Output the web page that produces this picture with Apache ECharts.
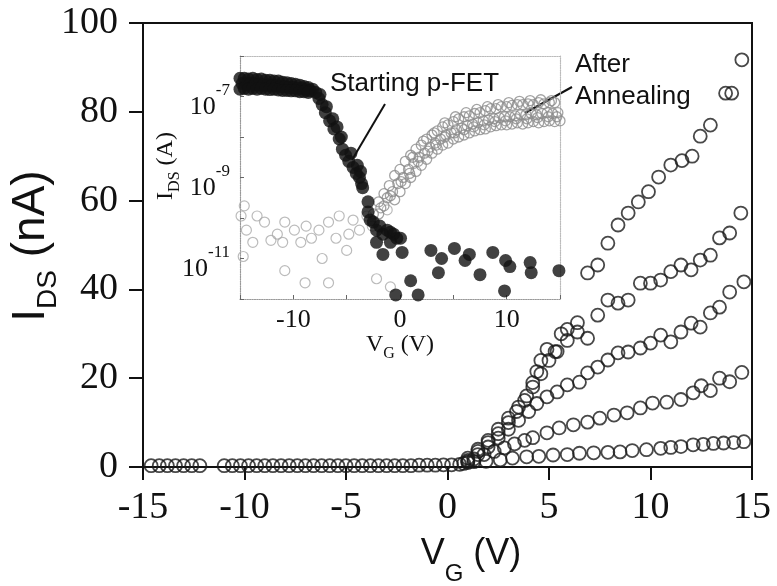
<!DOCTYPE html>
<html>
<head>
<meta charset="utf-8">
<script src="https://cdn.jsdelivr.net/npm/echarts@6/dist/echarts.min.js"></script>
<style>
html,body{margin:0;padding:0;background:#fff}
#chart{width:777px;height:586px}
</style>
</head>
<body>
<div id="chart"></div>
<script>
// main plot : I_DS (nA) vs V_G (V), one sweep per drain bias
var offState = [[-14.6,0.3],[-14.2,0.3],[-13.8,0.3],[-13.4,0.3],[-13.0,0.3],[-12.6,0.3],[-12.2,0.3],
	[-11.0,0.3],[-10.6,0.3],[-10.2,0.3],[-9.8,0.3],[-9.4,0.3],[-9.0,0.3],[-8.6,0.3],[-8.2,0.3],[-7.8,0.3],
	[-7.4,0.3],[-7.0,0.3],[-6.6,0.3],[-6.2,0.3],[-5.8,0.3],[-5.4,0.3],[-5.0,0.3],[-4.6,0.3],[-4.2,0.3],
	[-3.8,0.3],[-3.4,0.3],[-3.0,0.3],[-2.6,0.3],[-2.2,0.3],[-1.8,0.3],[-1.4,0.4],[-1.0,0.4],[-0.6,0.4],
	[-0.2,0.5],[0.2,0.5]];
var sweepA = [[1.0,2],[1.5,4],[2.0,6],[2.5,8.5],[3.0,11],[3.5,13.5],[3.9,16],[4.2,19],[4.4,21.5],[4.6,24],
	[4.9,26.5],[5.3,26],[5.6,30],[5.9,31],[6.4,32.5],[6.9,43.7],[7.4,45.5],[7.9,50.4],[8.4,54.5],[8.9,57.2],
	[9.4,59.7],[9.9,62],[10.4,65.3],[11.0,68],[11.55,69],[12.05,70],[12.45,74.5],[12.95,77],[13.7,84.2],
	[14.0,84.2],[14.5,91.7]];
var sweepB = [[1.0,1.5],[1.5,3.5],[2.0,5.5],[2.5,7.5],[3.0,10],[3.4,12.5],[3.8,15],[4.2,18],[4.6,21],
	[5.0,24],[5.4,26],[5.9,28.5],[6.4,30.4],[6.9,29],[7.4,34.2],[7.9,37.6],[8.4,36.9],[8.9,37.6],[9.5,41.4],
	[10.0,41.4],[10.5,42.1],[11.0,44],[11.5,45.5],[12.0,44.4],[12.45,46.6],[12.95,47.7],[13.4,51.6],
	[13.9,52.7],[14.45,57.2]];
var sweepC = [[1.0,1.2],[1.5,2.8],[2.0,4.5],[2.5,6.5],[3.0,8.5],[3.5,10.5],[4.0,12.5],[4.4,14.3],[4.9,15.8],
	[5.4,16.9],[5.9,18.5],[6.5,19.1],[6.9,21.2],[7.4,22.5],[7.9,24.1],[8.4,25.7],[8.9,25.9],[9.5,26.8],
	[10.0,27.9],[10.5,29.7],[11.0,28.2],[11.5,30.4],[12.0,32.4],[12.45,31.5],[12.95,34.7],[13.4,36.0],
	[13.9,39.4],[14.6,41.7]];
var sweepD = [[0.8,0.8],[1.3,1.8],[1.8,2.8],[2.3,3.5],[2.8,4.3],[3.3,5.2],[3.8,6.0],[4.2,6.6],[4.9,7.7],
	[5.5,8.8],[6.2,9.5],[6.9,10.1],[7.5,11.0],[8.2,11.7],[8.85,12.2],[9.5,13.3],[10.1,14.4],[10.8,14.6],
	[11.5,15.2],[12.1,16.7],[12.5,18.3],[12.95,17.2],[13.4,20.0],[13.9,19.2],[14.5,21.3]];
var sweepE = [[0.6,0.6],[1.0,1.0],[1.3,1.2],[1.9,1.3],[2.6,1.6],[3.2,2.0],[3.9,2.3],[4.5,2.4],[5.2,2.7],
	[5.9,2.8],[6.5,3.1],[7.2,3.2],[7.9,3.3],[8.5,3.4],[9.1,3.7],[9.8,3.9],[10.5,4.2],[11.0,4.4],[11.5,4.6],
	[12.1,5.0],[12.6,5.1],[13.1,5.3],[13.6,5.4],[14.1,5.5],[14.6,5.7]];
var mainXTicks = [-15, 15, 5];
var mainYTicks = [0, 100, 20];

// inset : log10 of I_DS (A) vs V_G (V)
var pfetLog = [[-15,-6.55],[-14.6,-6.55],[-14.2,-6.57],[-13.8,-6.55],[-13.4,-6.58],[-13.0,-6.57],[-12.6,-6.6],
	[-12.2,-6.6],[-11.8,-6.62],[-11.4,-6.62],[-11.0,-6.65],[-10.6,-6.66],[-10.2,-6.68],[-9.8,-6.7],[-9.4,-6.72],
	[-9.0,-6.75],[-8.6,-6.78],[-8.2,-6.82],
	[-14.8,-6.68],[-14.4,-6.7],[-14.0,-6.68],[-13.6,-6.7],[-13.2,-6.7],[-12.8,-6.72],[-12.4,-6.72],[-12.0,-6.74],
	[-11.6,-6.74],[-11.2,-6.75],[-10.8,-6.76],[-10.4,-6.78],[-10.0,-6.78],[-9.6,-6.8],[-9.2,-6.8],[-8.8,-6.84],
	[-8.4,-6.86],
	[-15,-6.82],[-14.6,-6.8],[-14.2,-6.82],[-13.8,-6.8],[-13.4,-6.82],[-13.0,-6.8],[-12.6,-6.82],[-12.2,-6.83],
	[-11.8,-6.82],[-11.4,-6.84],[-11.0,-6.85],[-10.6,-6.85],[-10.2,-6.86],[-9.8,-6.86],[-9.4,-6.88],[-9.0,-6.88],
	[-8.6,-6.9],
	[-7.9,-6.9],[-7.6,-7.05],[-7.5,-6.95],[-7.3,-7.2],[-7.0,-7.4],[-6.9,-7.25],[-6.6,-7.6],[-6.3,-7.55],
	[-6.2,-7.8],[-5.9,-7.75],[-5.7,-8.05],[-5.5,-8.0],[-5.4,-8.3],[-5.1,-8.45],[-4.8,-8.6],[-4.6,-8.4],
	[-4.4,-8.75],[-4.1,-8.9],[-4.0,-8.7],[-3.8,-9.0],[-3.7,-8.85],[-3.6,-9.15],[-3.5,-9.25],
	[-3.0,-9.6],[-3.0,-9.85],[-2.8,-10.05],[-2.5,-10.1],[-2.2,-10.3],[-1.9,-10.2],[-1.6,-10.4],[-1.2,-10.3],
	[-0.9,-10.35],[-0.6,-10.4],[-0.3,-10.5],[0.05,-10.5],[-2.2,-10.6],[-1.6,-10.9],[-0.9,-10.6],[0.2,-10.85],
	[2.9,-10.8],[5.1,-10.75],[3.9,-11.0],[6.5,-10.9],[6.1,-11.05],[8.7,-10.85],[9.9,-11.05],[10.3,-11.2],
	[12.2,-11.1],[12.3,-11.35],[14.9,-11.3],[3.6,-11.35],[7.5,-11.4],[1.0,-11.55],[-0.4,-11.9],[1.7,-11.9],
	[9.8,-11.8]];
var annealLog = [[-2.5,-9.9],[-2,-9.6],[-1.5,-9.4],[-1,-9.2],[-0.5,-8.95],[0,-8.8],[0.5,-8.6],[1,-8.45],
	[1.5,-8.3],[2,-8.2],[2.5,-8.05],[3,-7.95],[3.5,-7.85],[4,-7.75],[4.5,-7.7],[5,-7.62],[5.5,-7.55],[6,-7.5],
	[6.5,-7.48],[7,-7.42],[7.5,-7.4],[8,-7.35],[8.5,-7.3],[9,-7.3],[9.5,-7.25],[10,-7.25],[10.5,-7.22],
	[11,-7.2],[11.5,-7.2],[12,-7.18],[12.5,-7.2],[13,-7.15],[13.5,-7.18],[14,-7.15],[14.5,-7.15],
	[-2,-9.9],[-1.5,-9.7],[-1.2,-9.5],[-0.7,-9.35],[-0.2,-9.15],[0.3,-9],[0.8,-8.8],[1.3,-8.65],[1.8,-8.5],
	[2.3,-8.4],[2.8,-8.25],[3.3,-8.15],[3.8,-8.05],[4.3,-7.95],[4.8,-7.9],[5.3,-7.82],[5.8,-7.78],[6.3,-7.72],
	[6.8,-7.68],[7.3,-7.65],[7.8,-7.6],[8.3,-7.58],[8.8,-7.55],[9.3,-7.52],[9.8,-7.5],[10.3,-7.5],[10.8,-7.48],
	[11.3,-7.45],[11.8,-7.45],[12.3,-7.42],[12.8,-7.45],[13.3,-7.42],[13.8,-7.4],[14.3,-7.42],[14.8,-7.4],
	[-0.5,-9.55],[0,-9.35],[0.5,-9.15],[1,-9],[1.5,-8.85],[2,-8.7],[2.5,-8.55],[3,-8.4],[3.5,-8.3],[4,-8.2],
	[4.5,-8.15],[5,-8.05],[5.5,-8],[6,-7.95],[6.5,-7.9],[7,-7.85],[7.5,-7.82],[8,-7.8],[8.5,-7.75],[9,-7.72],
	[9.5,-7.7],[10,-7.7],[10.5,-7.68],[11,-7.65],[11.5,-7.68],[12,-7.65],[12.5,-7.62],[13,-7.65],[13.5,-7.62],
	[14,-7.6],[14.5,-7.62],[15,-7.6],
	[-1.8,-9.75],[-0.9,-9.45],[0.1,-9.1],[0.9,-8.9],[1.7,-8.6],[2.6,-8.35],[3.4,-8.2],[4.2,-8.0],[5.1,-7.9],
	[6.0,-7.82],[6.9,-7.75],[7.9,-7.7],[8.9,-7.62],[9.9,-7.6],[10.9,-7.55],[11.9,-7.55],[12.9,-7.52],[13.9,-7.5],
	[14.7,-7.5],
	[1.2,-8.5],[2.2,-8.1],[3.2,-7.9],[4.2,-7.65],[5.2,-7.5],[6.2,-7.4],[7.2,-7.32],[8.2,-7.25],[9.2,-7.2],
	[10.2,-7.15],[11.2,-7.12],[12.2,-7.1],[13.2,-7.08],[14.2,-7.1]];
var annealOffLog = [[-14.6,-9.7],[-13.4,-9.95],[-14.4,-10.3],[-12.7,-10.1],[-14.9,-9.95],[-10.8,-10.1],
	[-9.9,-10.3],[-12.1,-10.55],[-9.3,-10.6],[-7.6,-10.3],[-6.7,-10.1],[-6.0,-10.5],[-7.3,-11.0],[-5.0,-10.8],
	[-4.4,-10.05],[-3.8,-10.3],[-10.8,-11.3],[-8.9,-11.6],[-6.7,-11.6],[-2.2,-11.5],[-0.9,-11.7],[-14.7,-10.95],
	[-11.5,-10.4],[-8.3,-10.5],[-5.7,-9.95],[-3.1,-9.95],[-1.2,-9.8],[-13.8,-10.6],[-11.0,-10.6],[-8.8,-10.2],
	[-4.8,-10.4],[-2.6,-10.2]];
var insetXLabels = [-10, 0, 10];
var insetYLabels = [-7, -9, -11];

function toAmps(list){
	return list.map(function(p){ return [p[0], Math.pow(10, p[1])]; });
}

var myChart = echarts.init(document.getElementById('chart'));

var openCircle = {
	type: 'scatter',
	symbol: 'circle',
	symbolSize: 13,
	xAxisIndex: 0,
	yAxisIndex: 0,
	itemStyle: { color: 'rgba(0,0,0,0)', borderColor: '#1a1a1a', borderWidth: 1.8 },
	silent: true
};
function mainSeries(data){
	return Object.assign({}, openCircle, { data: data });
}

var option = {
	backgroundColor: '#fff',
	animation: false,
	grid: [
		{ left: 143, right: 25, top: 23, bottom: 119, show: true, borderColor: '#111', borderWidth: 2 },
		{ left: 240, top: 56, width: 320, height: 243, show: true, backgroundColor: '#fff', borderWidth: 0 }
	],
	xAxis: [
		{
			type: 'value', gridIndex: 0,
			min: mainXTicks[0], max: mainXTicks[1], interval: mainXTicks[2],
			splitLine: { show: false },
			axisLine: { onZero: false, lineStyle: { color: '#111', width: 2 } },
			axisTick: { inside: false, length: 13, lineStyle: { color: '#111', width: 2 } },
			axisLabel: { color: '#111', fontSize: 38, fontFamily: 'Liberation Serif', margin: 22 }
		},
		{
			type: 'value', gridIndex: 1,
			min: -15, max: 15, interval: 5,
			splitLine: { show: false },
			axisLine: { onZero: false, lineStyle: { color: '#999', width: 1.2, type: 'dotted' } },
			axisTick: { inside: true, length: 4, lineStyle: { color: '#666', width: 1 } },
			axisLabel: {
				color: '#111', fontSize: 26, fontFamily: 'Liberation Serif', margin: 8,
				formatter: function(v){ return insetXLabels.indexOf(v) >= 0 ? String(v) : ''; }
			}
		},
		{
			type: 'value', gridIndex: 1, position: 'top',
			min: -15, max: 15,
			splitLine: { show: false },
			axisLine: { onZero: false, lineStyle: { color: '#bbb', width: 1.2, type: 'dotted' } },
			axisTick: { show: false }, axisLabel: { show: false }
		}
	],
	yAxis: [
		{
			type: 'value', gridIndex: 0,
			min: mainYTicks[0], max: mainYTicks[1], interval: mainYTicks[2],
			splitLine: { show: false },
			axisLine: { onZero: false, lineStyle: { color: '#111', width: 2 } },
			axisTick: { inside: false, length: 14, lineStyle: { color: '#111', width: 2 } },
			axisLabel: { color: '#111', fontSize: 38, fontFamily: 'Liberation Serif', margin: 25 }
		},
		{
			type: 'log', gridIndex: 1, logBase: 10,
			min: 1e-12, max: 1e-6,
			splitLine: { show: false },
			minorTick: { show: false },
			axisLine: { onZero: false, lineStyle: { color: '#999', width: 1.2, type: 'dotted' } },
			axisTick: { inside: true, length: 4, lineStyle: { color: '#666', width: 1 } },
			axisLabel: {
				margin: 10,
				formatter: function(v){
					var e = Math.round(Math.log(v) / Math.LN10);
					return insetYLabels.indexOf(e) >= 0 ? '{b|10}{s|' + e + '}' : '';
				},
				rich: {
					b: { fontSize: 26, fontFamily: 'Liberation Serif', color: '#111', lineHeight: 28, padding: [12, 0, 12, 0], verticalAlign: 'top' },
					s: { fontSize: 17, fontFamily: 'Liberation Serif', color: '#111', lineHeight: 18, verticalAlign: 'top' }
				}
			}
		},
		{
			type: 'log', gridIndex: 1, logBase: 10, position: 'right',
			min: 1e-12, max: 1e-6,
			splitLine: { show: false },
			axisLine: { onZero: false, lineStyle: { color: '#bbb', width: 1.2, type: 'dotted' } },
			axisTick: { show: false }, axisLabel: { show: false }
		}
	],
	series: [
		mainSeries(offState),
		mainSeries(sweepE),
		mainSeries(sweepD),
		mainSeries(sweepC),
		mainSeries(sweepB),
		mainSeries(sweepA),
		{
			type: 'scatter', xAxisIndex: 1, yAxisIndex: 1, symbol: 'circle', symbolSize: 10,
			itemStyle: { color: 'rgba(0,0,0,0)', borderColor: '#aaa', borderWidth: 1.2 },
			data: toAmps(annealOffLog)
		},
		{
			type: 'scatter', xAxisIndex: 1, yAxisIndex: 1, symbol: 'circle', symbolSize: 10,
			itemStyle: { color: 'rgba(0,0,0,0)', borderColor: '#8c8c8c', borderWidth: 1.3 },
			data: toAmps(annealLog)
		},
		{
			type: 'scatter', xAxisIndex: 1, yAxisIndex: 1, symbol: 'circle', symbolSize: 13,
			itemStyle: { color: '#111' },
			data: toAmps(pfetLog)
		}
	],
	graphic: [
		{
			// x axis title
			type: 'text', x: 471, y: 536,
			style: {
				text: '{m|V}{g|G}{m| (V)}', align: 'center', verticalAlign: 'top',
				rich: {
					m: { fontSize: 36, fontFamily: 'Liberation Sans', fill: '#111', lineHeight: 40, verticalAlign: 'top' },
					g: { fontSize: 24, fontFamily: 'Liberation Sans', fill: '#111', lineHeight: 24, padding: [26, 0, 0, 0], verticalAlign: 'top' }
				}
			}
		},
		{
			// y axis title
			type: 'text', x: 8, y: 246, rotation: Math.PI / 2,
			style: {
				text: '{m|I}{g|DS}{m| (nA)}', align: 'center', verticalAlign: 'top',
				rich: {
					m: { fontSize: 46, fontFamily: 'Liberation Sans', fill: '#111', lineHeight: 50, verticalAlign: 'top' },
					g: { fontSize: 28, fontFamily: 'Liberation Sans', fill: '#111', lineHeight: 28, padding: [26, 0, 0, 0], verticalAlign: 'top' }
				}
			}
		},
		{
			// inset x title
			type: 'text', x: 400, y: 333,
			style: {
				text: '{m|V}{g|G}{m| (V)}', align: 'center', verticalAlign: 'top',
				rich: {
					m: { fontSize: 24, fontFamily: 'Liberation Serif', fill: '#111', lineHeight: 28, verticalAlign: 'top' },
					g: { fontSize: 16, fontFamily: 'Liberation Serif', fill: '#111', lineHeight: 16, padding: [13, 0, 0, 0], verticalAlign: 'top' }
				}
			}
		},
		{
			// inset y title
			type: 'text', x: 154, y: 166, rotation: Math.PI / 2,
			style: {
				text: '{m|I}{g|DS}{m| (A)}', align: 'center', verticalAlign: 'top',
				rich: {
					m: { fontSize: 24, fontFamily: 'Liberation Serif', fill: '#111', lineHeight: 28, verticalAlign: 'top' },
					g: { fontSize: 16, fontFamily: 'Liberation Serif', fill: '#111', lineHeight: 16, padding: [13, 0, 0, 0], verticalAlign: 'top' }
				}
			}
		},
		{
			type: 'text', x: 330, y: 84,
			style: { text: 'Starting p-FET', fontSize: 26, fontFamily: 'Liberation Sans', fill: '#111', verticalAlign: 'middle' }
		},
		{
			type: 'line', shape: { x1: 385, y1: 104, x2: 352, y2: 160 },
			style: { stroke: '#111', lineWidth: 2 }
		},
		{
			type: 'text', x: 575, y: 65,
			style: { text: 'After', fontSize: 26, fontFamily: 'Liberation Sans', fill: '#111', verticalAlign: 'middle' }
		},
		{
			type: 'text', x: 575, y: 97,
			style: { text: 'Annealing', fontSize: 26, fontFamily: 'Liberation Sans', fill: '#111', verticalAlign: 'middle' }
		},
		{
			type: 'line', shape: { x1: 572, y1: 87, x2: 525, y2: 113 },
			style: { stroke: '#111', lineWidth: 2 }
		}
	]
};
myChart.setOption(option);
window.addEventListener('resize', function(){
	myChart.resize();
});
</script>
</body>
</html>
